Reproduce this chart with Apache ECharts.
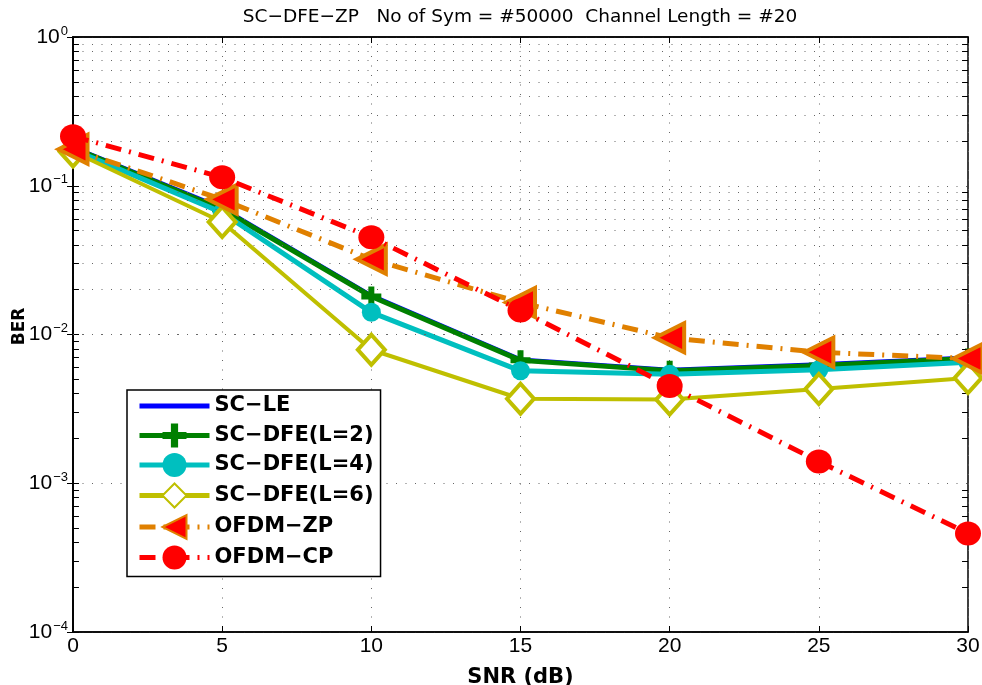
<!DOCTYPE html>
<html><head><meta charset="utf-8">
<script src="https://cdn.jsdelivr.net/npm/echarts@6/dist/echarts.min.js"></script>
<style>html,body{margin:0;padding:0;background:#fff}#c{width:982px;height:685px}</style>
</head><body><div id="c"></div>
<script>
const snr = [0, 5, 10, 15, 20, 25, 30];
const scLE   = [0.182, 0.071, 0.0183, 0.0068, 0.0058, 0.0063, 0.0070];
const scDFE2 = [0.180, 0.0695, 0.0180, 0.0067, 0.0057, 0.0062, 0.0069];
const scDFE4 = [0.175, 0.066, 0.0141, 0.0057, 0.0054, 0.0058, 0.0065];
const scDFE6 = [0.170, 0.057, 0.0079, 0.0037, 0.00365, 0.0043, 0.0051];
const ofdmZP = [0.176, 0.081, 0.032, 0.0164, 0.0095, 0.0076, 0.0069];
const ofdmCP = [0.215, 0.114, 0.045, 0.0145, 0.0045, 0.0014, 0.00046];
const seriesNames = ['SC\u2212LE', 'SC\u2212DFE(L=2)', 'SC\u2212DFE(L=4)', 'SC\u2212DFE(L=6)', 'OFDM\u2212ZP', 'OFDM\u2212CP'];
const xTicks = [0, 5, 10, 15, 20, 25, 30];
const yDecades = [1e-4, 1e-3, 1e-2, 1e-1, 1];
const titleText = 'SC\u2212DFE\u2212ZP   No of Sym = #50000  Channel Length = #20';

const minorGrid = [];
for (let d = -4; d < 0; d++) for (let m = 2; m <= 9; m++) minorGrid.push(m * Math.pow(10, d));

const FONT = '"Liberation Sans", Arial, Helvetica, sans-serif';
const WFONT = '"DejaVu Sans", Verdana, sans-serif';
const dotted = { color: '#666', width: 1, type: [1, 8.5] };
const tickLine = { color: '#000', width: 1, type: 'solid' };
const pair = a => a.map((v, i) => [snr[i], v]);

const gridLines = minorGrid.map(v => ({ yAxis: v, lineStyle: dotted }));
const minorTicks = [];
minorGrid.forEach(v => {
  minorTicks.push([{ coord: [0, v], lineStyle: tickLine }, { coord: [0.2, v] }]);
  minorTicks.push([{ coord: [29.8, v], lineStyle: tickLine }, { coord: [30, v] }]);
});

const chart = echarts.init(document.getElementById('c'), null, { renderer: 'canvas' });
const sup = v => {
  const e = Math.round(Math.log10(v));
  return '{b|10}{e|' + (e < 0 ? '\u2212' + (-e) : e) + '}';
};
chart.setOption({
  animation: false,
  backgroundColor: '#fff',
  title: {
    text: titleText, left: 515, textAlign: 'center', top: 3,
    textStyle: { fontFamily: WFONT, fontSize: 18.5, fontWeight: 'normal', color: '#000' }
  },
  grid: { left: 73, right: 14, top: 37, bottom: 53, show: true, borderColor: '#000', borderWidth: 1.5, containLabel: false, outerBoundsMode: 'none' },
  legend: {
    orient: 'vertical', left: 127, top: 390,
    padding: [4, 7, 7, 10], itemWidth: 70, itemHeight: 30, itemGap: 5.5,
    backgroundColor: '#fff', borderColor: '#000', borderWidth: 1.5,
    lineStyle: { width: 5 },
    textStyle: { fontFamily: WFONT, fontSize: 21, fontWeight: 'bold', color: '#000' },
    data: seriesNames
  },
  xAxis: [{
    type: 'value', min: 0, max: 30, interval: 5,
    name: 'SNR (dB)', nameLocation: 'middle', nameGap: 35, nameMoveOverlap: false,
    nameTextStyle: { fontFamily: WFONT, fontSize: 21, fontWeight: 'bold', color: '#000' },
    axisLine: { lineStyle: { color: '#000', width: 1.5 } },
    axisTick: { inside: true, length: 6, lineStyle: { color: '#000' } },
    axisLabel: { fontFamily: FONT, fontSize: 21, color: '#000', margin: 4 },
    splitLine: { show: true, lineStyle: dotted }
  }, {
    type: 'value', min: 0, max: 30, interval: 5, position: 'top',
    axisLine: { lineStyle: { color: '#000', width: 1.5 } },
    axisTick: { inside: true, length: 6, lineStyle: { color: '#000' } },
    axisLabel: { show: false }, splitLine: { show: false }
  }],
  yAxis: [{
    type: 'log', logBase: 10, min: 1e-4, max: 1,
    name: 'BER', nameLocation: 'middle', nameGap: 45, nameRotate: 90, nameMoveOverlap: false,
    nameTextStyle: { fontFamily: WFONT, fontSize: 17, fontWeight: 'bold', color: '#000', padding: [0, 0, 0, 16] },
    axisLine: { lineStyle: { color: '#000', width: 1.5 } },
    axisTick: { inside: true, length: 6, lineStyle: { color: '#000' } },
    axisLabel: {
      margin: 5, formatter: sup,
      rich: {
        b: { fontFamily: FONT, fontSize: 21, color: '#000' },
        e: { fontFamily: FONT, fontSize: 13, color: '#000', padding: [0, 0, 12, 1] }
      }
    },
    splitLine: { show: true, lineStyle: dotted }
  }, {
    type: 'log', logBase: 10, min: 1e-4, max: 1, position: 'right',
    axisLine: { lineStyle: { color: '#000', width: 1.5 } },
    axisTick: { inside: true, length: 6, lineStyle: { color: '#000' } },
    axisLabel: { show: false }, splitLine: { show: false }
  }],
  series: [
    {
      name: seriesNames[0], type: 'line', data: pair(scLE), z: 2,
      symbol: 'path://M0,0L0.01,0M20,20L19.99,20M8.5,8.5h3v3h-3z', symbolSize: 24,
      lineStyle: { color: '#0000FF', width: 4 }, itemStyle: { color: '#0000FF', borderWidth: 0 },
      markLine: {
        silent: true, symbol: 'none', animation: false, label: { show: false },
        emphasis: { disabled: true },
        data: gridLines.concat(minorTicks)
      }
    },
    {
      name: seriesNames[1], type: 'line', data: pair(scDFE2), z: 3,
      symbol: 'path://M3.5,0h3v3.5h3.5v3h-3.5v3.5h-3v-3.5h-3.5v-3h3.5z', symbolSize: 20,
      lineStyle: { color: '#008000', width: 5 }, itemStyle: { color: '#008000' }
    },
    {
      name: seriesNames[2], type: 'line', data: pair(scDFE4), z: 4,
      symbol: 'circle', symbolSize: 19,
      lineStyle: { color: '#00BFBF', width: 5 }, itemStyle: { color: '#00BFBF' }
    },
    {
      name: seriesNames[3], type: 'line', data: pair(scDFE6), z: 5,
      symbol: 'diamond', symbolSize: [27, 30],
      lineStyle: { color: '#BFBF00', width: 4 },
      itemStyle: { color: '#fff', borderColor: '#BFBF00', borderWidth: 4 }
    },
    {
      name: seriesNames[4], type: 'line', data: pair(ofdmZP), z: 6,
      symbol: 'path://M0,10L20,0L20,20Z', symbolSize: [29, 29],
      lineStyle: { color: '#E08000', width: 5, type: [16, 8, 2, 8] },
      itemStyle: { color: '#FF0000', borderColor: '#E08000', borderWidth: 4 }
    },
    {
      name: seriesNames[5], type: 'line', data: pair(ofdmCP), z: 7,
      symbol: 'circle', symbolSize: [26, 24],
      lineStyle: { color: '#FF0000', width: 5, type: [16, 8, 2, 8] },
      itemStyle: { color: '#FF0000' }
    }
  ]
});
</script></body></html>
